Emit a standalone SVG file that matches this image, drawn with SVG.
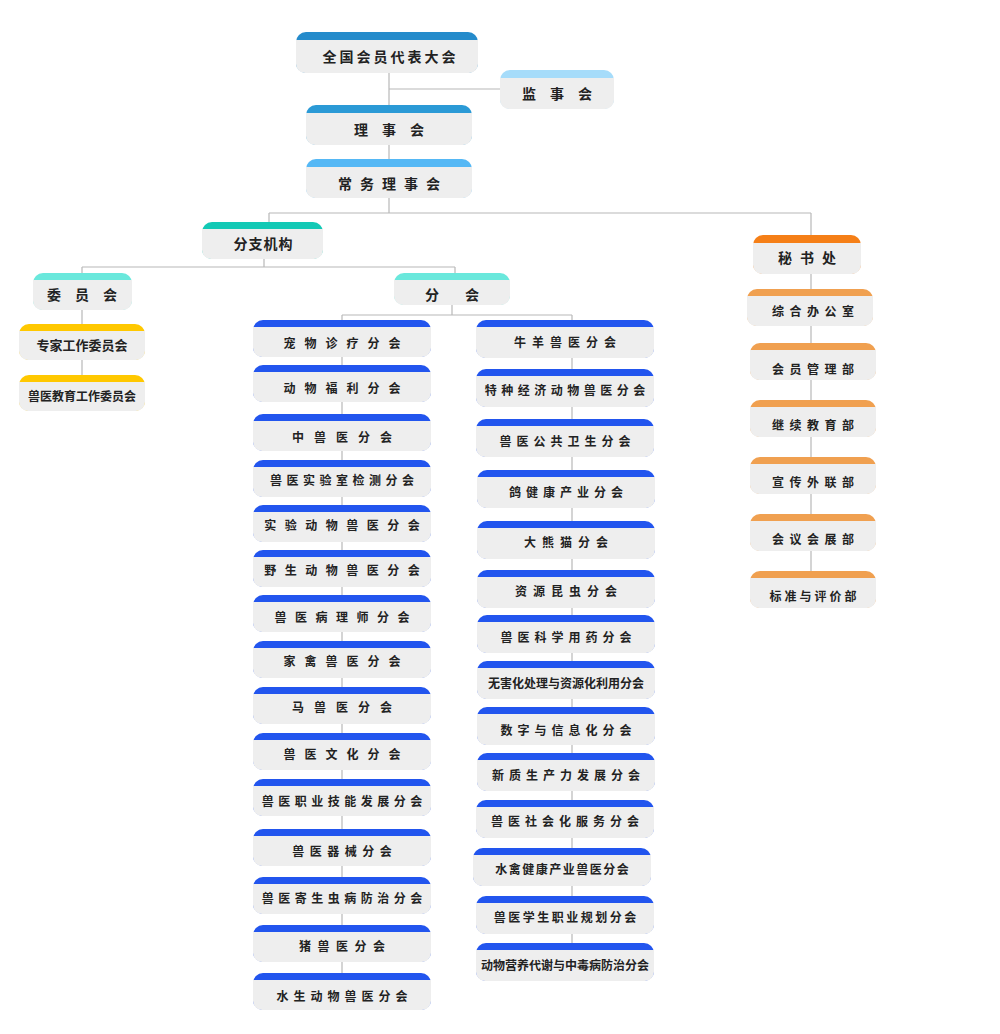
<svg xmlns="http://www.w3.org/2000/svg" width="1000" height="1034" viewBox="0 0 1000 1034">
<style>
.g{fill:#eeeeee}
text{font-family:"Noto Sans CJK SC","Noto Sans",sans-serif;font-weight:600;fill:#222;text-anchor:middle;dominant-baseline:central;font-size:12px}
.big{font-size:14px}
.ln{stroke:#b8b8b8;stroke-width:1.2;fill:none}
</style>
<rect width="1000" height="1034" fill="#fff"/>
<g id="connectors">
<path class="ln" d="M389 73V159M389 89H500M389 198V213M269 213H811M269 213V222M811 213V235M264 259V267M82 267H455M82 267V273M455 267V273M82 310V375M452 305V315M342 315H572M342 315V990M572 315V960M811 274V590"/>
</g>
<g id="n1"><rect x="296" y="32" width="182" height="41" rx="10" fill="#258bcb"/><rect class="g" x="296" y="40" width="182" height="33" rx="9"/><rect class="g" x="296" y="40" width="182" height="20"/><text class="big" x="389" y="56" letter-spacing="3" dx="1.5">全国会员代表大会</text></g>
<g id="n2"><rect x="500" y="70" width="114" height="39" rx="10" fill="#a6dcfa"/><rect class="g" x="500" y="78" width="114" height="31" rx="9"/><rect class="g" x="500" y="78" width="114" height="18"/><text class="big" x="557" y="93" letter-spacing="14" dx="7">监事会</text></g>
<g id="n3"><rect x="306" y="105" width="166" height="40" rx="10" fill="#2b9ad6"/><rect class="g" x="306" y="113" width="166" height="32" rx="9"/><rect class="g" x="306" y="113" width="166" height="18"/><text class="big" x="389" y="129" letter-spacing="14" dx="7">理事会</text></g>
<g id="n4"><rect x="306" y="159" width="166" height="39" rx="10" fill="#55b8f5"/><rect class="g" x="306" y="167" width="166" height="31" rx="9"/><rect class="g" x="306" y="167" width="166" height="18"/><text class="big" x="389" y="183" letter-spacing="8" dx="4">常务理事会</text></g>
<g id="n5"><rect x="202" y="222" width="121" height="37" rx="10" fill="#12c9b5"/><rect class="g" x="202" y="229" width="121" height="30" rx="9"/><rect class="g" x="202" y="229" width="121" height="18"/><text class="big" x="263" y="243" letter-spacing="1" dx="0.5">分支机构</text></g>
<g id="n6"><rect x="753" y="235" width="108" height="39" rx="10" fill="#f57f17"/><rect class="g" x="753" y="243" width="108" height="31" rx="9"/><rect class="g" x="753" y="243" width="108" height="18"/><text class="big" x="807" y="257" letter-spacing="8" dx="4">秘书处</text></g>
<g id="n7"><rect x="33" y="273" width="99" height="37" rx="10" fill="#6ae8dc"/><rect class="g" x="33" y="280" width="99" height="30" rx="9"/><rect class="g" x="33" y="280" width="99" height="18"/><text class="big" x="82" y="294" letter-spacing="14" dx="7">委员会</text></g>
<g id="n8"><rect x="394" y="273" width="116" height="32" rx="10" fill="#6ae8dc"/><rect class="g" x="394" y="280" width="116" height="25" rx="9"/><rect class="g" x="394" y="280" width="116" height="14"/><text class="big" x="452" y="294" letter-spacing="26" dx="13">分会</text></g>
<g id="n9"><rect x="19" y="324" width="126" height="36" rx="10" fill="#ffc800"/><rect class="g" x="19" y="331" width="126" height="29" rx="9"/><rect class="g" x="19" y="331" width="126" height="18"/><text x="82" y="344" style="font-size:13px">专家工作委员会</text></g>
<g id="n10"><rect x="19" y="375" width="126" height="36" rx="10" fill="#ffc800"/><rect class="g" x="19" y="382" width="126" height="29" rx="9"/><rect class="g" x="19" y="382" width="126" height="18"/><text x="82" y="395">兽医教育工作委员会</text></g>
<!-- left column -->
<g id="L1"><rect x="253" y="320" width="178" height="37" rx="10" fill="#2255ee"/><rect class="g" x="253" y="327" width="178" height="30" rx="9"/><rect class="g" x="253" y="327" width="178" height="18"/><text x="342" y="342" letter-spacing="9" dx="4.5">宠物诊疗分会</text></g>
<g id="L2"><rect x="253" y="365" width="178" height="37" rx="10" fill="#2255ee"/><rect class="g" x="253" y="372" width="178" height="30" rx="9"/><rect class="g" x="253" y="372" width="178" height="18"/><text x="342" y="387" letter-spacing="9" dx="4.5">动物福利分会</text></g>
<g id="L3"><rect x="253" y="414" width="178" height="37" rx="10" fill="#2255ee"/><rect class="g" x="253" y="421" width="178" height="30" rx="9"/><rect class="g" x="253" y="421" width="178" height="18"/><text x="342" y="436" letter-spacing="10" dx="5">中兽医分会</text></g>
<g id="L4"><rect x="253" y="460" width="178" height="37" rx="10" fill="#2255ee"/><rect class="g" x="253" y="467" width="178" height="30" rx="9"/><rect class="g" x="253" y="467" width="178" height="18"/><text x="342" y="479" letter-spacing="4.5" dx="2.2">兽医实验室检测分会</text></g>
<g id="L5"><rect x="253" y="505" width="178" height="37" rx="10" fill="#2255ee"/><rect class="g" x="253" y="512" width="178" height="30" rx="9"/><rect class="g" x="253" y="512" width="178" height="18"/><text x="342" y="524" letter-spacing="8.5" dx="4.2">实验动物兽医分会</text></g>
<g id="L6"><rect x="253" y="550" width="178" height="37" rx="10" fill="#2255ee"/><rect class="g" x="253" y="557" width="178" height="30" rx="9"/><rect class="g" x="253" y="557" width="178" height="18"/><text x="342" y="569" letter-spacing="8.5" dx="4.2">野生动物兽医分会</text></g>
<g id="L7"><rect x="253" y="595" width="178" height="37" rx="10" fill="#2255ee"/><rect class="g" x="253" y="602" width="178" height="30" rx="9"/><rect class="g" x="253" y="602" width="178" height="18"/><text x="342" y="616" letter-spacing="8.5" dx="4.2">兽医病理师分会</text></g>
<g id="L8"><rect x="253" y="641" width="178" height="37" rx="10" fill="#2255ee"/><rect class="g" x="253" y="648" width="178" height="30" rx="9"/><rect class="g" x="253" y="648" width="178" height="18"/><text x="342" y="660" letter-spacing="9" dx="4.5">家禽兽医分会</text></g>
<g id="L9"><rect x="253" y="687" width="178" height="37" rx="10" fill="#2255ee"/><rect class="g" x="253" y="694" width="178" height="30" rx="9"/><rect class="g" x="253" y="694" width="178" height="18"/><text x="342" y="706" letter-spacing="10" dx="5">马兽医分会</text></g>
<g id="L10"><rect x="253" y="733" width="178" height="37" rx="10" fill="#2255ee"/><rect class="g" x="253" y="740" width="178" height="30" rx="9"/><rect class="g" x="253" y="740" width="178" height="18"/><text x="342" y="753" letter-spacing="9" dx="4.5">兽医文化分会</text></g>
<g id="L11"><rect x="253" y="779" width="178" height="37" rx="10" fill="#2255ee"/><rect class="g" x="253" y="786" width="178" height="30" rx="9"/><rect class="g" x="253" y="786" width="178" height="18"/><text x="342" y="800" letter-spacing="4.5" dx="2.2">兽医职业技能发展分会</text></g>
<g id="L12"><rect x="253" y="829" width="178" height="37" rx="10" fill="#2255ee"/><rect class="g" x="253" y="836" width="178" height="30" rx="9"/><rect class="g" x="253" y="836" width="178" height="18"/><text x="342" y="850" letter-spacing="5.5" dx="2.7">兽医器械分会</text></g>
<g id="L13"><rect x="253" y="877" width="178" height="37" rx="10" fill="#2255ee"/><rect class="g" x="253" y="884" width="178" height="30" rx="9"/><rect class="g" x="253" y="884" width="178" height="18"/><text x="342" y="897" letter-spacing="4.5" dx="2.2">兽医寄生虫病防治分会</text></g>
<g id="L14"><rect x="253" y="925" width="178" height="37" rx="10" fill="#2255ee"/><rect class="g" x="253" y="932" width="178" height="30" rx="9"/><rect class="g" x="253" y="932" width="178" height="18"/><text x="342" y="945" letter-spacing="6.5" dx="3.2">猪兽医分会</text></g>
<g id="L15"><rect x="253" y="973" width="178" height="37" rx="10" fill="#2255ee"/><rect class="g" x="253" y="980" width="178" height="30" rx="9"/><rect class="g" x="253" y="980" width="178" height="18"/><text x="342" y="995" letter-spacing="5" dx="2.5">水生动物兽医分会</text></g>
<!-- right column -->
<g id="R1"><rect x="476" y="320" width="178" height="38" rx="10" fill="#2255ee"/><rect class="g" x="476" y="327" width="178" height="31" rx="9"/><rect class="g" x="476" y="327" width="178" height="18"/><text x="565" y="341" letter-spacing="6" dx="3">牛羊兽医分会</text></g>
<g id="R2"><rect x="476" y="369" width="178" height="38" rx="10" fill="#2255ee"/><rect class="g" x="476" y="376" width="178" height="31" rx="9"/><rect class="g" x="476" y="376" width="178" height="18"/><text x="565" y="389" letter-spacing="4.5" dx="2.2">特种经济动物兽医分会</text></g>
<g id="R3"><rect x="476" y="419" width="178" height="38" rx="10" fill="#2255ee"/><rect class="g" x="476" y="426" width="178" height="31" rx="9"/><rect class="g" x="476" y="426" width="178" height="18"/><text x="565" y="440" letter-spacing="5" dx="2.5">兽医公共卫生分会</text></g>
<g id="R4"><rect x="477" y="470" width="178" height="38" rx="10" fill="#2255ee"/><rect class="g" x="477" y="477" width="178" height="31" rx="9"/><rect class="g" x="477" y="477" width="178" height="18"/><text x="566" y="491" letter-spacing="5" dx="2.5">鸽健康产业分会</text></g>
<g id="R5"><rect x="477" y="521" width="178" height="38" rx="10" fill="#2255ee"/><rect class="g" x="477" y="528" width="178" height="31" rx="9"/><rect class="g" x="477" y="528" width="178" height="18"/><text x="566" y="541" letter-spacing="6" dx="3">大熊猫分会</text></g>
<g id="R6"><rect x="477" y="570" width="178" height="38" rx="10" fill="#2255ee"/><rect class="g" x="477" y="577" width="178" height="31" rx="9"/><rect class="g" x="477" y="577" width="178" height="18"/><text x="566" y="590" letter-spacing="6" dx="3">资源昆虫分会</text></g>
<g id="R7"><rect x="477" y="615" width="178" height="38" rx="10" fill="#2255ee"/><rect class="g" x="477" y="622" width="178" height="31" rx="9"/><rect class="g" x="477" y="622" width="178" height="18"/><text x="566" y="636" letter-spacing="5" dx="2.5">兽医科学用药分会</text></g>
<g id="R8"><rect x="477" y="661" width="178" height="38" rx="10" fill="#2255ee"/><rect class="g" x="477" y="668" width="178" height="31" rx="9"/><rect class="g" x="477" y="668" width="178" height="18"/><text x="566" y="682">无害化处理与资源化利用分会</text></g>
<g id="R9"><rect x="477" y="707" width="178" height="38" rx="10" fill="#2255ee"/><rect class="g" x="477" y="714" width="178" height="31" rx="9"/><rect class="g" x="477" y="714" width="178" height="18"/><text x="566" y="729" letter-spacing="5" dx="2.5">数字与信息化分会</text></g>
<g id="R10"><rect x="477" y="753" width="178" height="38" rx="10" fill="#2255ee"/><rect class="g" x="477" y="760" width="178" height="31" rx="9"/><rect class="g" x="477" y="760" width="178" height="18"/><text x="566" y="774" letter-spacing="5" dx="2.5">新质生产力发展分会</text></g>
<g id="R11"><rect x="476" y="800" width="178" height="38" rx="10" fill="#2255ee"/><rect class="g" x="476" y="807" width="178" height="31" rx="9"/><rect class="g" x="476" y="807" width="178" height="18"/><text x="565" y="820" letter-spacing="5" dx="2.5">兽医社会化服务分会</text></g>
<g id="R12"><rect x="473" y="848" width="178" height="38" rx="10" fill="#2255ee"/><rect class="g" x="473" y="855" width="178" height="31" rx="9"/><rect class="g" x="473" y="855" width="178" height="18"/><text x="562" y="868" letter-spacing="1.5" dx="0.7">水禽健康产业兽医分会</text></g>
<g id="R13"><rect x="476" y="896" width="178" height="38" rx="10" fill="#2255ee"/><rect class="g" x="476" y="903" width="178" height="31" rx="9"/><rect class="g" x="476" y="903" width="178" height="18"/><text x="565" y="916" letter-spacing="2.5" dx="1.2">兽医学生职业规划分会</text></g>
<g id="R14"><rect x="476" y="943" width="178" height="38" rx="10" fill="#2255ee"/><rect class="g" x="476" y="950" width="178" height="31" rx="9"/><rect class="g" x="476" y="950" width="178" height="18"/><text x="565" y="964">动物营养代谢与中毒病防治分会</text></g>
<!-- secretariat -->
<g id="S1"><rect x="747" y="289" width="126" height="37" rx="10" fill="#f0a050"/><rect class="g" x="747" y="296" width="126" height="30" rx="9"/><rect class="g" x="747" y="296" width="126" height="18"/><text x="813" y="310" letter-spacing="5.5" dx="2.7">综合办公室</text></g>
<g id="S2"><rect x="750" y="343" width="126" height="37" rx="10" fill="#f0a050"/><rect class="g" x="750" y="350" width="126" height="30" rx="9"/><rect class="g" x="750" y="350" width="126" height="18"/><text x="813" y="368" letter-spacing="5.5" dx="2.7">会员管理部</text></g>
<g id="S3"><rect x="750" y="400" width="126" height="37" rx="10" fill="#f0a050"/><rect class="g" x="750" y="407" width="126" height="30" rx="9"/><rect class="g" x="750" y="407" width="126" height="18"/><text x="813" y="424" letter-spacing="5.5" dx="2.7">继续教育部</text></g>
<g id="S4"><rect x="750" y="457" width="126" height="37" rx="10" fill="#f0a050"/><rect class="g" x="750" y="464" width="126" height="30" rx="9"/><rect class="g" x="750" y="464" width="126" height="18"/><text x="813" y="481" letter-spacing="5.5" dx="2.7">宣传外联部</text></g>
<g id="S5"><rect x="750" y="514" width="126" height="37" rx="10" fill="#f0a050"/><rect class="g" x="750" y="521" width="126" height="30" rx="9"/><rect class="g" x="750" y="521" width="126" height="18"/><text x="813" y="538" letter-spacing="5.5" dx="2.7">会议会展部</text></g>
<g id="S6"><rect x="750" y="571" width="126" height="37" rx="10" fill="#f0a050"/><rect class="g" x="750" y="578" width="126" height="30" rx="9"/><rect class="g" x="750" y="578" width="126" height="18"/><text x="813" y="595" letter-spacing="3" dx="1.5">标准与评价部</text></g>
</svg>
